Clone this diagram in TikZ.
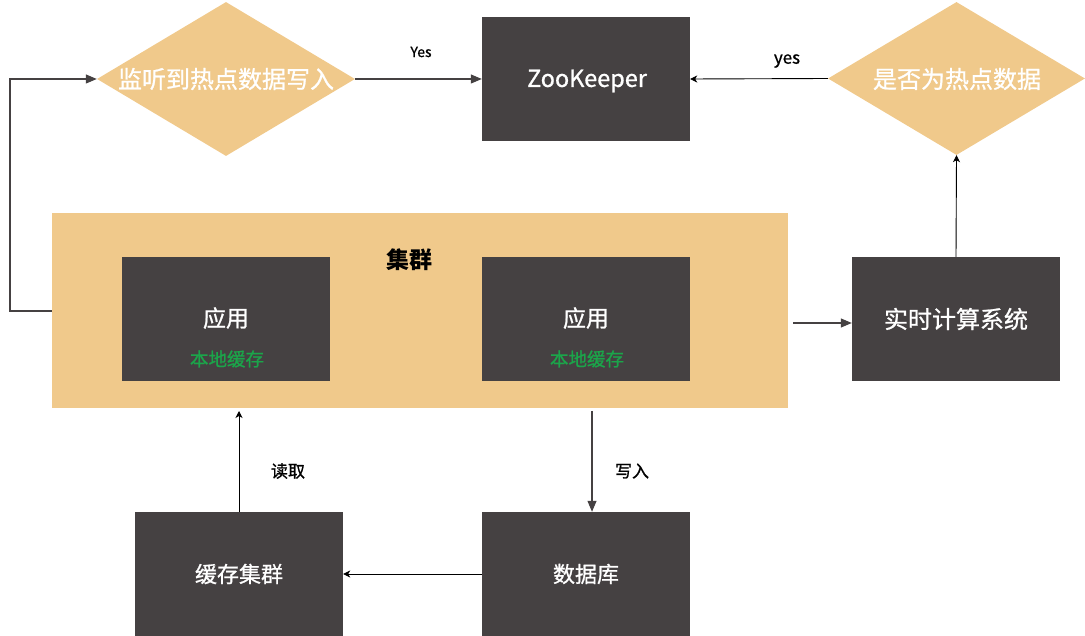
\documentclass[tikz,border=0pt]{standalone}
\usepackage{fontspec}
\setmainfont{Noto Sans CJK SC}
\newfontfamily\medfont[FakeBold=0.9]{Noto Sans CJK SC}
\usetikzlibrary{arrows.meta,shapes.geometric}
\definecolor{gold}{HTML}{F0C98B}
\definecolor{dark}{HTML}{454142}
\definecolor{okgreen}{HTML}{1BA54A}
\begin{document}
\begin{tikzpicture}[x=1pt,y=-1pt,
  box/.style={fill=dark,draw=none,minimum width=208pt,minimum height=124pt,inner sep=0pt,text=white,font=\medfont\fontsize{22}{26}\selectfont},
  dia/.style={diamond,fill=gold,draw=none,minimum width=258pt,minimum height=154pt,inner sep=0pt,aspect=1.675},
  dtext/.style={text=white,font=\medfont\fontsize{24}{28}\selectfont,inner sep=0pt},
  lbl/.style={text=black,font=\medfont\fontsize{17}{20}\selectfont,inner sep=0pt},
  garrow/.style={draw=dark,line width=1.1pt,-{Triangle[length=11pt,width=9pt]}},
  barrow/.style={draw=black,line width=0.9pt,-{Stealth[length=7pt,width=7pt,inset=2pt]}}
]
\useasboundingbox (0,0) rectangle (1085,636);
% cluster background
\node[fill=gold,draw=none,minimum width=736pt,minimum height=195pt,inner sep=0pt] (cl) at (420,310.5) {};
\node[text=black,font=\bfseries\fontsize{23}{27}\selectfont,inner sep=0pt] (clt) at (409,260) {集群};
% apps
\node[box] (app1) at (226,319) {};
\node[text=white,font=\medfont\fontsize{23}{27}\selectfont,inner sep=0pt] (app1t) at (226,318) {应用};
\node[text=okgreen,font=\medfont\fontsize{18.5}{22}\selectfont,inner sep=0pt] (app1c) at (227,359) {本地缓存};
\node[box] (app2) at (586,319) {};
\node[text=white,font=\medfont\fontsize{23}{27}\selectfont,inner sep=0pt] (app2t) at (586,318) {应用};
\node[text=okgreen,font=\medfont\fontsize{18.5}{22}\selectfont,inner sep=0pt] (app2c) at (587,359) {本地缓存};
% diamonds
\node[dia] (d1) at (226,79) {};
\node[dtext] (d1t) at (226,79) {监听到热点数据写入};
\node[dia,minimum width=257pt,minimum height=153pt] (d2) at (956.5,78.5) {};
\node[dtext] (d2t) at (957,79) {是否为热点数据};
% boxes
\node[box] (zk) at (586,79) {};
\node[text=white,font=\medfont\fontsize{23.5}{28}\selectfont,inner sep=0pt] (zkt) at (587,81) {ZooKeeper};
\node[box,font=\medfont\fontsize{24}{28}\selectfont] (rt) at (956,319) {实时计算系统};
\node[box] (cache) at (239,574) {缓存集群};
\node[box] (db) at (586,574) {数据库};
% connectors
\coordinate (lp) at (10,311);
\draw[garrow] (cl.west |- lp) -- (lp) |- (d1.west);
\draw[garrow] (d1.east) -- (zk.west);
\node[lbl,font=\medfont\fontsize{14}{17}\selectfont] (yes1) at (421,52) {Yes};
\draw[barrow] (d2.west) -- (zk.east);
\node[lbl] (yes2) at (787,61) {yes};
\draw[barrow] (rt.north) -- (d2.south);
\coordinate (c1) at (793,323);
\draw[garrow] (c1) -- (c1 -| rt.west);
\coordinate (r1) at (239,411);
\draw[barrow] (cache.north) -- (r1);
\node[lbl] (rd) at (288,471) {读取};
\coordinate (w1) at (592,411);
\draw[garrow] (w1) -- (w1 |- db.north);
\node[lbl] (wr) at (632,471) {写入};
\draw[barrow] (db.west) -- (cache.east);
\end{tikzpicture}
\end{document}
